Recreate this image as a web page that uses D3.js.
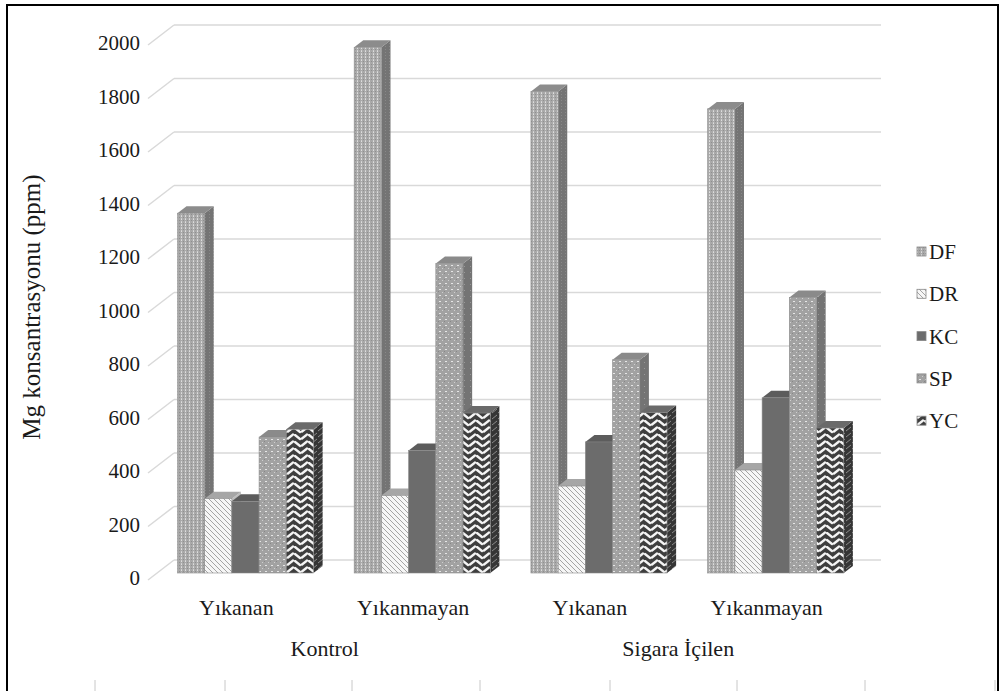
<!DOCTYPE html>
<html>
<head>
<meta charset="utf-8">
<script src="https://cdn.jsdelivr.net/npm/d3@7"></script>
<style>
  html, body { margin: 0; padding: 0; background: #fff; }
  svg { display: block; }
  text { font-family: "Liberation Serif", "Times New Roman", serif; fill: #1a1a1a; }
</style>
</head>
<body>
<svg id="chart" width="1005" height="691"></svg>
<script>
// Mg concentration by sample group and washing state
const categories = ["Yıkanan", "Yıkanmayan", "Yıkanan", "Yıkanmayan"];
const groupLabels = ["Kontrol", "Sigara İçilen"];
const seriesNames = ["DF", "DR", "KC", "SP", "YC"];
const dfValues = [1345, 1965, 1800, 1735];
const drValues = [278, 290, 325, 385];
const kcValues = [268, 458, 490, 655];
const spValues = [508, 1157, 797, 1030];
const ycValues = [537, 598, 600, 542];
const yTicks = [0, 200, 400, 600, 800, 1000, 1200, 1400, 1600, 1800, 2000];

const seriesValues = { DF: dfValues, DR: drValues, KC: kcValues, SP: spValues, YC: ycValues };

const svg = d3.select("#chart");
const defs = svg.append("defs");

// --- fill patterns -------------------------------------------------------
function pat(id, w, h, bg, draw) {
  const p = defs.append("pattern").attr("id", id).attr("patternUnits", "userSpaceOnUse")
    .attr("width", w).attr("height", h);
  p.append("rect").attr("width", w).attr("height", h).attr("fill", bg);
  draw(p);
}
// DF: fine dotted grey
pat("pDF", 4, 3, "#a9a9a9", p => {
  p.append("rect").attr("x", 1).attr("y", 0).attr("width", 1).attr("height", 1).attr("fill", "#dedede");
  p.append("rect").attr("x", 3).attr("y", 1).attr("width", 1).attr("height", 1).attr("fill", "#8f8f8f");
  p.append("rect").attr("x", 1).attr("y", 2).attr("width", 1).attr("height", 1).attr("fill", "#d0d0d0");
});
pat("pDFside", 4, 3, "#747474", p => {
  p.append("rect").attr("x", 1).attr("y", 1).attr("width", 1).attr("height", 1).attr("fill", "#888");
});
// DR: white with downward diagonal lines
pat("pDR", 5, 5, "#f6f6f6", p => {
  p.append("path").attr("d", "M-1,-1 L6,6 M-1,4 L1,6 M4,-1 L6,1")
    .attr("stroke", "#a4a4a4").attr("stroke-width", 1);
});
// SP: grey with small light dots
pat("pSP", 6, 6, "#a2a2a2", p => {
  p.append("rect").attr("x", 1).attr("y", 1).attr("width", 2).attr("height", 1).attr("fill", "#e6e6e6");
  p.append("rect").attr("x", 4).attr("y", 4).attr("width", 1).attr("height", 1).attr("fill", "#cfcfcf");
  p.append("rect").attr("x", 0).attr("y", 3).attr("width", 1).attr("height", 1).attr("fill", "#888");
});
pat("pSPside", 6, 6, "#747474", p => {
  p.append("rect").attr("x", 2).attr("y", 2).attr("width", 1).attr("height", 1).attr("fill", "#999");
});
// YC: dark herringbone weave
pat("pYC", 14, 14, "#3e3e3e", p => {
  p.append("path")
    .attr("d", "M1,1 L6,5 M1,8 L6,12 M8,4.5 L13,0.5 M8,11.5 L13,7.5 M8,18.5 L13,14.5")
    .attr("stroke", "#f4f4f4").attr("stroke-width", 2.3).attr("stroke-linecap", "round");
});
pat("pYCside", 6, 6, "#353535", p => {
  p.append("path").attr("d", "M0,5 L5,1").attr("stroke", "#8a8a8a").attr("stroke-width", 1);
});

const styles = {
  DF: { front: "url(#pDF)", side: "url(#pDFside)", top: "#8c8c8c" },
  DR: { front: "url(#pDR)", side: "#bdbdbd", top: "#a6a6a6" },
  KC: { front: "#6c6c6c", side: "#545454", top: "#5c5c5c" },
  SP: { front: "url(#pSP)", side: "url(#pSPside)", top: "#8a8a8a" },
  YC: { front: "url(#pYC)", side: "url(#pYCside)", top: "#6a6a6a" }
};

// --- geometry -------------------------------------------------------------
const floorY = 580;          // front edge of the floor (value 0)
const slant = 1.3;           // x shift per pixel of depth
const wallDepth = 20;        // floor depth (px, vertical)
const barFront = 7;          // depth of bar front face
const barDepth = 7;          // thickness of bars

const y = d3.scaleLinear().domain([0, 2000]).range([0, 535]);
const x0 = d3.scaleBand().domain(d3.range(categories.length)).range([148, 855]);
const gap = x0.bandwidth() * 0.115;
const x1 = d3.scaleBand().domain(seriesNames).range([gap, x0.bandwidth() - gap]);

// frame
svg.append("rect").attr("x", 7).attr("y", 5).attr("width", 991).attr("height", 720)
  .attr("fill", "none").attr("stroke", "#000").attr("stroke-width", 2);

// back-wall gridlines and side-wall diagonals
const grid = svg.append("g");
yTicks.forEach(v => {
  const yb = floorY - wallDepth - y(v);
  const xb = x0.range()[0] + wallDepth * slant;
  grid.append("line").attr("x1", xb).attr("x2", x0.range()[1] + wallDepth * slant)
    .attr("y1", yb).attr("y2", yb).attr("stroke", "#d9d9d9").attr("stroke-width", 1.5);
  grid.append("line").attr("x1", x0.range()[0]).attr("y1", floorY - y(v))
    .attr("x2", xb).attr("y2", yb).attr("stroke", "#d9d9d9").attr("stroke-width", 1.5);
});

// y tick labels
svg.append("g").selectAll("text").data(yTicks).join("text")
  .attr("x", 140).attr("y", v => floorY - 2 - y(v))
  .attr("text-anchor", "end").attr("dominant-baseline", "central")
  .attr("font-size", 21).text(v => v);

// y axis title
svg.append("text").attr("transform", "translate(31,307) rotate(-90)")
  .attr("text-anchor", "middle").attr("dominant-baseline", "central")
  .attr("font-size", 25).text("Mg konsantrasyonu (ppm)");

// --- bars -----------------------------------------------------------------
const bars = svg.append("g");
const ddx = barDepth * slant, ddy = barDepth;
categories.forEach((c, i) => {
  seriesNames.forEach(s => {
    const v = seriesValues[s][i];
    const xl = x0(i) + x1(s) + barFront * slant;
    const w = x1.bandwidth();
    const yb = floorY - barFront;
    const yt = yb - y(v);
    const st = styles[s];
    const g = bars.append("g");
    g.append("path").attr("d", `M${xl + w},${yb} L${xl + w + ddx},${yb - ddy} L${xl + w + ddx},${yt - ddy} L${xl + w},${yt} Z`)
      .attr("fill", st.side);
    g.append("path").attr("d", `M${xl},${yt} L${xl + w},${yt} L${xl + w + ddx},${yt - ddy} L${xl + ddx},${yt - ddy} Z`)
      .attr("fill", st.top);
    g.append("rect").attr("x", xl).attr("y", yt).attr("width", w).attr("height", y(v))
      .attr("fill", st.front).attr("stroke", "#8a8a8a").attr("stroke-width", 0.6);
  });
});

// --- category and group labels -------------------------------------------
svg.append("g").selectAll("text").data(categories).join("text")
  .attr("x", (d, i) => x0(i) + x0.bandwidth() / 2)
  .attr("y", 607).attr("text-anchor", "middle").attr("dominant-baseline", "central")
  .attr("font-size", 22).text(d => d);

svg.append("g").selectAll("text").data(groupLabels).join("text")
  .attr("x", (d, i) => x0(i * 2) + x0.bandwidth())
  .attr("y", 648).attr("text-anchor", "middle").attr("dominant-baseline", "central")
  .attr("font-size", 22).text(d => d);

// --- legend ---------------------------------------------------------------
const legendMarks = { DF: "url(#pDF)", DR: "url(#pDR)", KC: "#6c6c6c", SP: "url(#pSP)", YC: "url(#pYC)" };
const legend = svg.append("g");
seriesNames.forEach((s, i) => {
  const ly = 252 + i * 42.3;
  legend.append("rect").attr("x", 917).attr("y", ly - 5).attr("width", 9).attr("height", 9)
    .attr("fill", legendMarks[s]).attr("stroke", "#888").attr("stroke-width", 0.8);
  legend.append("text").attr("x", 929).attr("y", ly).attr("dominant-baseline", "central")
    .attr("font-size", 21).text(s);
});

// light tick marks along the lower edge
svg.append("g").selectAll("line").data([95, 225, 352, 480, 610, 737, 865, 995]).join("line")
  .attr("x1", d => d).attr("x2", d => d).attr("y1", 680).attr("y2", 691)
  .attr("stroke", "#c8c8c8").attr("stroke-width", 1);
</script>
</body>
</html>
